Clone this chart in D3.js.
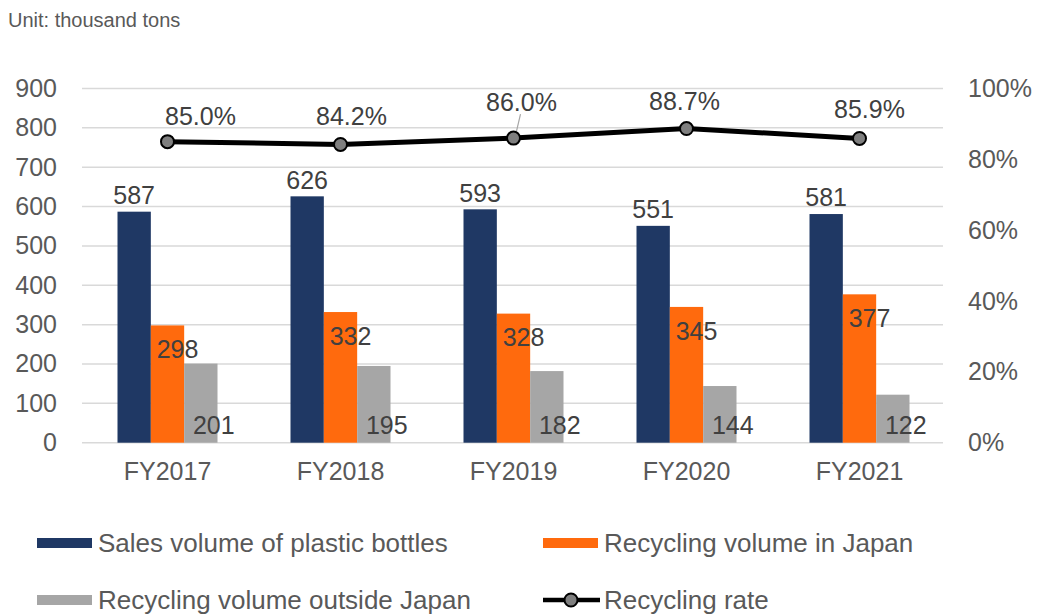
<!DOCTYPE html>
<html>
<head>
<meta charset="utf-8">
<script src="https://cdn.jsdelivr.net/npm/d3@7/dist/d3.min.js"></script>
<style>
  html, body { margin: 0; padding: 0; background: #fff; }
  svg { display: block; font-family: "Liberation Sans", Arial, sans-serif; }
</style>
</head>
<body>
<svg id="chart" width="1038" height="614"></svg>
<script>
// ---- data ----
const years = ["FY2017", "FY2018", "FY2019", "FY2020", "FY2021"];
const salesVolume = [587, 626, 593, 551, 581];
const recyclingJapan = [298, 332, 328, 345, 377];
const recyclingOutside = [201, 195, 182, 144, 122];
const recyclingRate = [0.850, 0.842, 0.860, 0.887, 0.859];
const leftTicks = [0, 100, 200, 300, 400, 500, 600, 700, 800, 900];
const rightTicks = [0, 0.2, 0.4, 0.6, 0.8, 1.0];

const seriesNames = ["Sales volume of plastic bottles", "Recycling volume in Japan", "Recycling volume outside Japan"];
const seriesValues = [salesVolume, recyclingJapan, recyclingOutside];
const seriesColors = ["#1f3864", "#ff6a0d", "#a6a6a6"];

// per-label nudges for the rate labels (px), kept apart from the data
const rateLabelNudge = [[23, 3], [1, 0], [-2, -8], [-12, 1], [0, -1]];

const svg = d3.select("#chart");
const textDark = "#404040";
const textAxis = "#595959";

// ---- scales ----
const x = d3.scaleBand().domain(years).range([81, 946]).paddingInner(0).paddingOuter(0);
const xs = d3.scaleBand().domain(d3.range(3)).range([-50, 50]).padding(0);
const y = d3.scaleLinear().domain([0, 900]).range([442.7, 88.5]);
const yR = d3.scaleLinear().domain([0, 1]).range([442.7, 88.5]);

// unit caption
svg.append("text").attr("x", 8).attr("y", 27)
  .attr("font-size", 20).attr("fill", textAxis).text("Unit: thousand tons");

// gridlines
svg.append("g").selectAll("line").data(leftTicks).join("line")
  .attr("x1", 82).attr("x2", 943)
  .attr("y1", d => y(d)).attr("y2", d => y(d))
  .attr("stroke", "#d9d9d9").attr("stroke-width", 1.5);

// left axis
const leftAxis = svg.append("g").attr("transform", "translate(57,0)")
  .call(d3.axisLeft(y).tickValues(leftTicks).tickSize(0).tickPadding(0));
leftAxis.select(".domain").remove();
leftAxis.selectAll("text").attr("font-size", 25).attr("fill", textAxis)
  .attr("font-family", "Liberation Sans, Arial, sans-serif");

// right axis
const rightAxis = svg.append("g").attr("transform", "translate(968,0)")
  .call(d3.axisRight(yR).tickValues(rightTicks).tickFormat(d3.format(".0%")).tickSize(0).tickPadding(0));
rightAxis.select(".domain").remove();
rightAxis.selectAll("text").attr("font-size", 25).attr("fill", textAxis)
  .attr("font-family", "Liberation Sans, Arial, sans-serif");

// category axis
const bottomAxis = svg.append("g").attr("transform", "translate(0,462)")
  .call(d3.axisBottom(x).tickSize(0).tickPadding(0));
bottomAxis.select(".domain").remove();
bottomAxis.selectAll("text").attr("font-size", 25).attr("fill", textAxis)
  .attr("font-family", "Liberation Sans, Arial, sans-serif");

// bars
const cx = yr => x(yr) + x.bandwidth() / 2;
seriesValues.forEach((vals, si) => {
  svg.append("g").selectAll("rect").data(vals).join("rect")
    .attr("x", (d, i) => cx(years[i]) + xs(si))
    .attr("width", xs.bandwidth())
    .attr("y", d => y(d))
    .attr("height", d => y(0) - y(d))
    .attr("fill", seriesColors[si]);
});

// value labels
const valueLabel = (vals, si, fx, fy) => {
  svg.append("g").selectAll("text").data(vals).join("text")
    .attr("x", (d, i) => cx(years[i]) + xs(si) + xs.bandwidth() / 2 + fx(d))
    .attr("y", d => fy(d))
    .attr("dy", "0.35em")
    .attr("text-anchor", "middle")
    .attr("font-size", 25).attr("fill", textDark)
    .text(d => d);
};
valueLabel(salesVolume, 0, d => 0, d => y(d) - 16.5);
valueLabel(recyclingJapan, 1, d => 10, d => y(d) + 24);
valueLabel(recyclingOutside, 2, d => 13, d => y(0) - 17);

// recycling rate line
const linePts = recyclingRate.map((r, i) => [cx(years[i]), yR(r)]);
svg.append("path")
  .attr("d", d3.line()(linePts))
  .attr("fill", "none").attr("stroke", "#000").attr("stroke-width", 5)
  .attr("stroke-linejoin", "round");
svg.append("g").selectAll("circle").data(linePts).join("circle")
  .attr("cx", d => d[0]).attr("cy", d => d[1]).attr("r", 6.5)
  .attr("fill", "#7f7f7f").attr("stroke", "#000").attr("stroke-width", 2);

// rate labels
const rateFmt = d3.format(".1%");
const rateLabelPos = recyclingRate.map((r, i) => [
  cx(years[i]) + 10 + rateLabelNudge[i][0],
  yR(r) - 28 + rateLabelNudge[i][1]
]);
// leader line for the label that was moved away from its point
svg.append("line")
  .attr("x1", rateLabelPos[2][0] - 1).attr("y1", rateLabelPos[2][1] + 12)
  .attr("x2", linePts[2][0] + 3).attr("y2", linePts[2][1] - 7)
  .attr("stroke", "#a6a6a6").attr("stroke-width", 1.2);
svg.append("g").selectAll("text").data(recyclingRate).join("text")
  .attr("x", (d, i) => rateLabelPos[i][0])
  .attr("y", (d, i) => rateLabelPos[i][1])
  .attr("dy", "0.35em").attr("text-anchor", "middle")
  .attr("font-size", 25).attr("fill", textDark)
  .text(d => rateFmt(d));

// legend
const legend = svg.append("g");
const legendItems = [
  { name: seriesNames[0], type: "bar", color: seriesColors[0], x: 37, y: 543 },
  { name: seriesNames[1], type: "bar", color: seriesColors[1], x: 543, y: 543 },
  { name: seriesNames[2], type: "bar", color: seriesColors[2], x: 37, y: 600 },
  { name: "Recycling rate", type: "line", x: 543, y: 600 }
];
legendItems.forEach(it => {
  const g = legend.append("g");
  if (it.type === "bar") {
    g.append("rect").attr("x", it.x).attr("y", it.y - 5).attr("width", 55).attr("height", 10)
      .attr("fill", it.color);
  } else {
    g.append("line").attr("x1", it.x).attr("x2", it.x + 57).attr("y1", it.y).attr("y2", it.y)
      .attr("stroke", "#000").attr("stroke-width", 4.5);
    g.append("circle").attr("cx", it.x + 28).attr("cy", it.y).attr("r", 6.5)
      .attr("fill", "#7f7f7f").attr("stroke", "#000").attr("stroke-width", 2);
  }
  g.append("text").attr("x", it.x + 61).attr("y", it.y).attr("dy", "0.35em")
    .attr("font-size", 26).attr("fill", textAxis).text(it.name);
});
</script>
</body>
</html>
